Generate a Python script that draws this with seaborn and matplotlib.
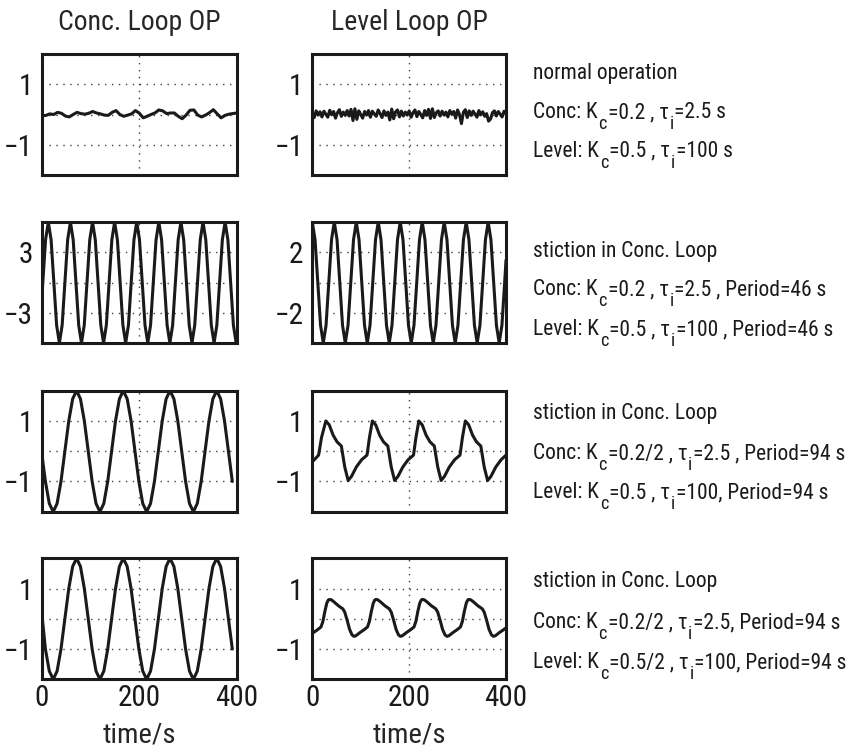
import os
import numpy as np
import pandas as pd
import matplotlib
matplotlib.use("Agg")
import matplotlib.pyplot as plt
from matplotlib import font_manager as fm
import seaborn as sns

# ---------------- data ----------------
col_titles = ["Conc. Loop OP", "Level Loop OP"]
time_ticks = [0, 200, 400]
x_label = "time/s"

# (tick value, axis half-range) for each row, conc column / level column
conc_scale = [(1, 2), (3, 6), (1, 2), (1, 2)]
level_scale = [(1, 2), (2, 4), (1, 2), (1, 2)]

# Row 1: normal operation
conc1_t = np.arange(0, 401, 8)
conc1_v = [-0.04, -0.03, 0.02, 0.00, 0.07, 0.04, -0.05, -0.08, 0.00, 0.07,
           0.03, 0.01, 0.04, 0.10, 0.05, 0.02, -0.02, -0.03, 0.07, 0.13,
           0.00, -0.06, -0.02, 0.02, 0.13, 0.04, -0.11, -0.06, 0.00, 0.05,
           0.15, 0.12, 0.03, 0.05, 0.05, -0.06, -0.14, -0.02, 0.14, 0.15,
           -0.02, -0.08, -0.02, 0.06, 0.16, 0.02, -0.11, -0.03, 0.01, 0.03,
           0.05]
level1_t = np.arange(0, 401, 4)
level1_v = [0.03, -0.10, 0.12, -0.02, 0.09, -0.08, 0.11, 0.01, -0.09, 0.14,
            -0.01, 0.10, -0.12, 0.06, 0.16, -0.06, 0.08, -0.03, 0.13, -0.05,
            0.17, -0.20, 0.19, -0.16, 0.12, 0.00, -0.12, 0.10, -0.02, 0.13,
            -0.09, 0.11, 0.02, -0.06, 0.15, 0.03, -0.10, 0.12, -0.03, 0.08,
            -0.18, 0.18, -0.14, 0.09, 0.15, -0.08, 0.11, -0.05, 0.08, -0.02,
            0.12, -0.09, 0.06, 0.15, -0.07, 0.10, 0.00, -0.11, 0.13, -0.03,
            0.17, -0.13, 0.19, -0.10, 0.06, 0.12, -0.05, 0.11, -0.02, 0.08,
            -0.08, 0.13, 0.01, 0.10, -0.12, 0.15, 0.00, -0.30, 0.07, 0.16,
            -0.10, 0.12, -0.03, 0.11, 0.02, -0.09, 0.13, -0.01, 0.09, -0.06,
            0.03, -0.22, -0.15, 0.06, 0.12, -0.05, 0.10, 0.01, -0.08, 0.11,
            0.03]

# Row 2: stiction, period ~46 s
conc2_t = np.concatenate([[0.0], 1.65 + 5.675 * np.arange(71), [400.0]])
conc2_v = ([-1.36]
           + [0, 4.24, 6, 4.24, 0, -4.24, -6, -4.24] * 8
           + [0, 4.24, 6, 4.24, 0, -4.24, -6]
           + [-5.93])
level2_t = np.concatenate([5.675 * np.arange(71), [400.0]])
level2_v = ([4, 2.83, 0, -2.83, -4, -2.83, 0, 2.83] * 8
            + [4, 2.83, 0, -2.83, -4, -2.83, 0]
            + [1.48])

# Row 3: stiction, reduced conc gain, period ~94 s
conc3_t = np.concatenate([[0.0], 7 + 8 * np.arange(49)])
conc3_v = ([-0.13]
           + [-1, -1.73, -2, -1.73, -1, 0, 1, 1.73, 2, 1.73, 1, 0] * 4
           + [-1])
level3_t = [0, 6, 13, 19, 28, 35, 43, 51, 60, 67, 74, 81, 91, 102, 113,
            118, 124, 131, 139, 147, 156, 163, 170, 177, 187, 198, 209,
            214, 220, 227, 235, 243, 252, 259, 266, 273, 283, 294, 305,
            310, 316, 323, 331, 339, 348, 355, 362, 369, 379, 390, 400]
level3_v = [-0.35, -0.25, -0.13, 0.45, 1.0, 0.87, 0.53, 0.31, 0.17, -0.52,
            -0.97, -0.83, -0.52, -0.28, -0.13, 0.45, 1.0, 0.87, 0.53, 0.31,
            0.17, -0.52, -0.97, -0.83, -0.52, -0.28, -0.13, 0.45, 1.0, 0.87,
            0.53, 0.31, 0.17, -0.52, -0.97, -0.83, -0.52, -0.28, -0.13, 0.45,
            1.0, 0.87, 0.53, 0.31, 0.17, -0.52, -0.97, -0.83, -0.52, -0.28,
            -0.13]

# Row 4: stiction, both gains reduced
conc4_t = np.concatenate([[0.0], 7 + 8 * np.arange(49)])
conc4_v = ([0.12]
           + [-1, -1.73, -2, -1.73, -1, 0, 1, 1.73, 2, 1.73, 1, 0] * 4
           + [-1])
level4_t = [0, 2, 11, 18, 22, 26, 30, 33, 35, 39, 44, 54, 63, 67, 72, 77,
            82, 86, 90, 98, 107, 114, 118, 122, 126, 129, 131, 135, 140,
            150, 159, 163, 168, 173, 178, 182, 186, 194, 203, 210, 214, 218,
            222, 225, 227, 231, 236, 246, 255, 259, 264, 269, 274, 278, 282,
            290, 299, 306, 310, 314, 318, 321, 323, 327, 332, 342, 351, 355,
            360, 365, 370, 374, 378, 386, 395, 400]
level4_v = [-0.47, -0.46, -0.36, -0.27, -0.08, 0.25, 0.52, 0.62, 0.64, 0.63,
            0.57, 0.43, 0.33, 0.22, -0.05, -0.35, -0.53, -0.58, -0.56, -0.46,
            -0.36, -0.27, -0.08, 0.25, 0.52, 0.62, 0.64, 0.63, 0.57, 0.43,
            0.33, 0.22, -0.05, -0.35, -0.53, -0.58, -0.56, -0.46, -0.36, -0.27,
            -0.08, 0.25, 0.52, 0.62, 0.64, 0.63, 0.57, 0.43, 0.33, 0.22,
            -0.05, -0.35, -0.53, -0.58, -0.56, -0.46, -0.36, -0.27, -0.08, 0.25,
            0.52, 0.62, 0.64, 0.63, 0.57, 0.43, 0.33, 0.22, -0.05, -0.35,
            -0.53, -0.58, -0.56, -0.46, -0.36, -0.30]

conc_series = [(conc1_t, conc1_v), (conc2_t, conc2_v), (conc3_t, conc3_v), (conc4_t, conc4_v)]
level_series = [(level1_t, level1_v), (level2_t, level2_v), (level3_t, level3_v), (level4_t, level4_v)]

# captions: lists of (text, is_subscript) pieces
def caption(*parts):
    return [(p, i % 2 == 1) for i, p in enumerate(parts)]

captions = [
    [caption("normal operation"),
     caption("Conc: K", "c", "=0.2 , \u03c4", "i", "=2.5 s"),
     caption("Level: K", "c", "=0.5 , \u03c4", "i", "=100 s")],
    [caption("stiction in Conc. Loop"),
     caption("Conc: K", "c", "=0.2 , \u03c4", "i", "=2.5 , Period=46 s"),
     caption("Level: K", "c", "=0.5 , \u03c4", "i", "=100 , Period=46 s")],
    [caption("stiction in Conc. Loop"),
     caption("Conc: K", "c", "=0.2/2 , \u03c4", "i", "=2.5 , Period=94 s"),
     caption("Level: K", "c", "=0.5 , \u03c4", "i", "=100, Period=94 s")],
    [caption("stiction in Conc. Loop"),
     caption("Conc: K", "c", "=0.2/2 , \u03c4", "i", "=2.5, Period=94 s"),
     caption("Level: K", "c", "=0.5/2 , \u03c4", "i", "=100, Period=94 s")],
]

# ---------------- fonts ----------------
sns.set_theme(style="white")
plt.rcParams["font.family"] = ["Liberation Sans", "DejaVu Sans"]
plt.rcParams["axes.unicode_minus"] = True


def narrow_font_file():
    wanted = ["liberationsansnarrow-regular", "arialnarrow.", "arial narrow",
              "nimbussansnarrow-regular", "robotocondensed-regular",
              "notosans-condensed.", "notosans-semicondensed."]
    files = sorted({f.fname for f in fm.fontManager.ttflist})
    for key in wanted:
        for f in files:
            if key in os.path.basename(f).lower():
                return f
    return None


NARROW = narrow_font_file()
# a regular-width face is scaled down so texts keep roughly their widths
WIDTH_FIX = 1.0 if NARROW else 0.86


def font(size):
    if NARROW:
        return fm.FontProperties(fname=NARROW, size=size)
    return fm.FontProperties(family=["Liberation Sans", "DejaVu Sans"],
                             size=size * WIDTH_FIX)


W, H = 859, 754
fig = plt.figure(figsize=(W / 100, H / 100), dpi=100)

col_left = [42.0, 312.3]
col_width = [194.7, 193.7]
row_top = [54.0, 222.0, 390.7, 558.3]
row_h = 121.0

MINUS = "\u2212"
grid_style = dict(color="0.25", linestyle=(0, (1, 4)), linewidth=1.0)
tick_fp = font(21)

for r in range(4):
    for c in range(2):
        left = col_left[c] / W
        bottom = 1 - (row_top[r] + row_h) / H
        ax = fig.add_axes([left, bottom, col_width[c] / W, row_h / H])
        t, v = (conc_series if c == 0 else level_series)[r]
        df = pd.DataFrame({"t": np.asarray(t, float), "v": np.asarray(v, float)})
        sns.lineplot(data=df, x="t", y="v", ax=ax, color="k", linewidth=2.2,
                     estimator=None, legend=False)
        tick, lim = (conc_scale if c == 0 else level_scale)[r]
        ax.set_xlim(0, 400)
        ax.set_ylim(-lim, lim)
        ax.set_xticks(time_ticks)
        ax.set_yticks([-tick, 0, tick])
        ax.set_yticklabels([MINUS + str(tick), "", str(tick)], fontproperties=tick_fp)
        if r == 3:
            ax.set_xticklabels([str(x) for x in time_ticks], fontproperties=tick_fp)
            ax.set_xlabel(x_label, fontproperties=font(20.5), labelpad=7)
        else:
            ax.set_xticklabels([])
            ax.set_xlabel("")
        ax.set_ylabel("")
        ax.tick_params(axis="y", length=0, pad=6.5, colors="k")
        ax.tick_params(axis="x", length=0, pad=3.5, colors="k")
        ax.grid(True, **grid_style)
        for s in ax.spines.values():
            s.set_visible(True)
            s.set_color("k")
            s.set_linewidth(2.2)
        if r == 0:
            ax.set_title(col_titles[c], fontproperties=font(20), pad=17)

# captions beside each row, subscripts drawn as lowered smaller text
cap_x = 533.0
cap_baselines = [[79.3, 118.3, 156.7], [257.3, 295.0, 335.0],
                 [419.3, 459.3, 498.3], [587.3, 628.3, 668.3]]
renderer = fig.canvas.get_renderer()


def draw_caption(parts, x_px, base_px, size):
    items = []
    x = x_px
    for text, is_sub in parts:
        fs = size * 0.85 if is_sub else size
        y = base_px + (11.0 if is_sub else 0.0)
        item = fig.text(x / W, 1 - y / H, text, fontproperties=font(fs),
                        ha="left", va="baseline", color="k")
        ext = item.get_window_extent(renderer)
        x = ext.x1 + 0.8
        items.append(item)
    return items, x


cap_size = 15.5
all_items = []
right_edge = 0
for r in range(4):
    for parts, yb in zip(captions[r], cap_baselines[r]):
        items, x_end = draw_caption(parts, cap_x, yb, cap_size)
        all_items += items
        right_edge = max(right_edge, x_end)

# keep the widest caption inside the figure
if right_edge > W - 6:
    for it in all_items:
        it.remove()
    cap_size *= (W - 6 - cap_x) / (right_edge - cap_x)
    for r in range(4):
        for parts, yb in zip(captions[r], cap_baselines[r]):
            draw_caption(parts, cap_x, yb, cap_size)

fig.savefig("out.png", dpi=100, facecolor="white")
